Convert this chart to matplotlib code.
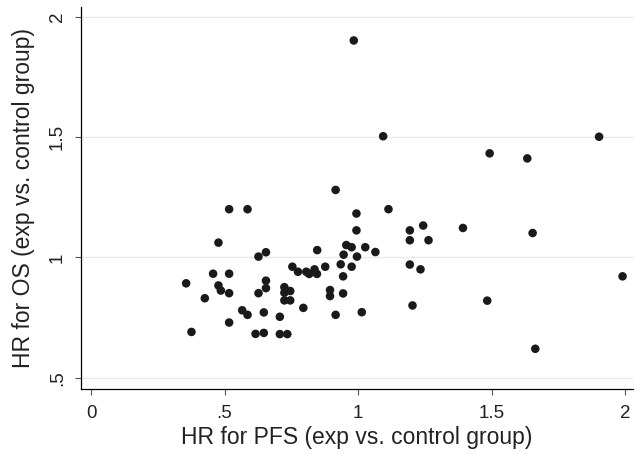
import matplotlib
matplotlib.use("Agg")
import matplotlib.pyplot as plt

hr_pfs = [0.356, 0.376, 0.426, 0.457, 0.477, 0.477, 0.486, 0.517, 0.517, 0.517,
          0.517, 0.566, 0.586, 0.586, 0.616, 0.627, 0.627, 0.647, 0.647, 0.655,
          0.655, 0.655, 0.707, 0.707, 0.724, 0.724, 0.724, 0.735, 0.746, 0.746,
          0.754, 0.775, 0.795, 0.806, 0.817, 0.837, 0.846, 0.847, 0.877, 0.895,
          0.895, 0.916, 0.916, 0.935, 0.944, 0.944, 0.946, 0.956, 0.976, 0.976,
          0.984, 0.994, 0.994, 0.996, 1.014, 1.027, 1.065, 1.094, 1.114, 1.194,
          1.194, 1.194, 1.204, 1.234, 1.244, 1.264, 1.393, 1.484, 1.493, 1.634,
          1.654, 1.664, 1.903, 1.991]
hr_os = [0.892, 0.690, 0.830, 0.932, 1.061, 0.883, 0.862, 1.200, 0.932, 0.851,
         0.729, 0.780, 1.200, 0.761, 0.682, 1.003, 0.851, 0.771, 0.686, 1.021,
         0.903, 0.872, 0.753, 0.681, 0.876, 0.853, 0.821, 0.681, 0.860, 0.821,
         0.961, 0.940, 0.790, 0.940, 0.931, 0.950, 0.931, 1.030, 0.961, 0.864,
         0.839, 1.280, 0.761, 0.971, 0.921, 0.850, 1.011, 1.051, 1.042, 0.961,
         1.901, 1.182, 1.112, 1.003, 0.772, 1.042, 1.022, 1.503, 1.200, 1.112,
         1.071, 0.970, 0.800, 0.950, 1.132, 1.071, 1.122, 0.820, 1.432, 1.411,
         1.101, 0.620, 1.501, 0.921]

x_ticks = [0, 0.5, 1, 1.5, 2]
x_tick_labels = ["0", ".5", "1", "1.5", "2"]
y_ticks = [0.5, 1, 1.5, 2]
y_tick_labels = [".5", "1", "1.5", "2"]

plt.rcParams['font.family'] = ['Liberation Sans', 'DejaVu Sans']

fig = plt.figure(figsize=(6.41, 4.58), dpi=100)
ax = fig.add_axes([0.1259, 0.1507, 0.8616, 0.834])

ax.scatter(hr_pfs, hr_os, s=38, color="#1a1a1a", edgecolors="none", zorder=3)

ax.set_xlim(-0.039, 2.03)
ax.set_ylim(0.453, 2.04)
ax.set_xticks(x_ticks)
ax.set_xticklabels(x_tick_labels, fontsize=13.5)
ax.set_yticks(y_ticks)
ax.set_yticklabels(y_tick_labels, fontsize=13.5, rotation=90, va="center")
ax.grid(axis="y", color="#eaeaea", linewidth=1.0, zorder=0)
ax.set_axisbelow(True)
for side in ("top", "right"):
    ax.spines[side].set_visible(False)
for side in ("left", "bottom"):
    ax.spines[side].set_color("#000000")
    ax.spines[side].set_linewidth(0.9)
ax.tick_params(axis="both", direction="out", length=4.5, width=0.8,
               color="#555555", labelcolor="#222222")
ax.tick_params(axis="x", pad=7)
ax.tick_params(axis="y", pad=6)
xl = ax.set_xlabel("HR for PFS (exp vs. control group)", fontsize=16.5, color="#222222")
yl = ax.set_ylabel("HR for OS (exp vs. control group)", fontsize=16.5, color="#222222")
xl.set_va("center")
yl.set_va("center")
ax.xaxis.set_label_coords(0.5, -0.128)
ax.yaxis.set_label_coords(-0.104, 0.5)

fig.savefig("out.png", dpi=100)
